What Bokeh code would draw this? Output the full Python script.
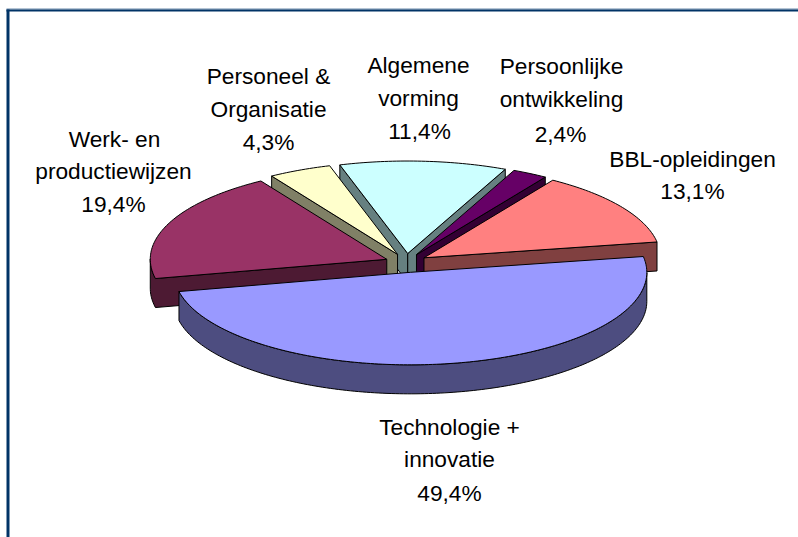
import math
from bokeh.plotting import figure
from bokeh.embed import file_html
from bokeh.resources import INLINE
from bokeh.core.properties import value

# ---- data ----
categories = ["Werk- en productiewijzen", "Personeel & Organisatie", "Algemene vorming",
              "Persoonlijke ontwikkeling", "BBL-opleidingen", "Technologie + innovatie"]
shares = [19.4, 4.3, 11.4, 2.4, 13.1, 49.4]
percent_labels = ["19,4%", "4,3%", "11,4%", "2,4%", "13,1%", "49,4%"]
top_colors = ["#993366", "#FFFFCC", "#CCFFFF", "#660066", "#FF8080", "#9999FF"]
side_colors = ["#4D1A33", "#808066", "#668080", "#330033", "#804040", "#4D4D80"]
label_lines = [["Werk- en", "productiewijzen"], ["Personeel &", "Organisatie"], ["Algemene", "vorming"],
               ["Persoonlijke", "ontwikkeling"], ["BBL-opleidingen"], ["Technologie +", "innovatie"]]
label_x = [[114, 113, 113], [268, 268, 268], [418, 418, 419], [561, 561, 560], [692, 692], [449, 449, 449]]
label_y = [[138, 170, 203], [75, 108, 141], [64, 97, 130], [65, 98, 133], [158, 190], [426, 458, 492]]

# ---- projection of the pie ----
CX, CY = 405.8, 262.5
RX, RY = 236.5, 92.5
EXPLODE_X, EXPLODE_Y = 21.2, 9.5
DEPTH = 29.0
START_DEG = 192.0   # upper-left end of the first slice; slices run clockwise

W, H = 798, 537
p = figure(width=W, height=H, x_range=(0, W), y_range=(H, 0), toolbar_location=None,
           output_backend="svg", min_border=0,
           outline_line_color=None, background_fill_color="white")
p.xaxis.visible = False
p.yaxis.visible = False
p.grid.visible = False

# chart frame
p.quad(left=[6], right=[W], top=[8], bottom=[9], fill_color="#6C8CAC", line_color=None)
p.quad(left=[6], right=[W], top=[9], bottom=[11], fill_color="#003366", line_color=None)
p.quad(left=[6], right=[9], top=[9], bottom=[H], fill_color="#003366", line_color=None)


def slice_outline(a0, a1):
    mid = math.radians((a0 + a1) / 2)
    ax = CX + EXPLODE_X * math.cos(mid)
    ay = CY - EXPLODE_Y * math.sin(mid)
    n = max(4, int(abs(a1 - a0)))
    arc = []
    for i in range(n + 1):
        t = math.radians(a0 + (a1 - a0) * i / n)
        arc.append((ax + RX * math.cos(t), ay - RY * math.sin(t)))
    return (ax, ay), arc


def wall(pts, color):
    xs = [q[0] for q in pts] + [q[0] for q in reversed(pts)]
    ys = [q[1] for q in pts] + [q[1] + DEPTH for q in reversed(pts)]
    p.patch(xs, ys, fill_color=color, line_color="black", line_width=1)


angle = START_DEG
spans = []
for s in shares:
    a1 = angle - s / 100 * 360
    spans.append((angle, a1))
    angle = a1

# painter's order: rear slices first, the big front slice last
order = sorted(range(len(shares)),
               key=lambda i: -math.sin(math.radians(sum(spans[i]) / 2)))
for i in order:
    apex, arc = slice_outline(*spans[i])
    ring = [apex] + arc + [apex]
    # walls: an edge faces the viewer when it runs right-to-left on this clockwise ring
    run = []
    for a, b in zip(ring[:-1], ring[1:]):
        if b[0] < a[0]:
            if not run:
                run = [a]
            run.append(b)
        else:
            if run:
                wall(run, side_colors[i])
            run = []
    if run:
        wall(run, side_colors[i])
    p.patch([q[0] for q in ring], [q[1] for q in ring], fill_color=top_colors[i],
            line_color="black", line_width=1)

# labels
for i, lines in enumerate(label_lines):
    for j, t in enumerate(lines + [percent_labels[i]]):
        p.text([label_x[i][j]], [label_y[i][j]], text=[t], text_align="center",
               text_baseline="middle", text_font=value("Liberation Sans"),
               text_font_size="22.7px", text_color="black")

open("out.html", "w").write(file_html(p, INLINE))
